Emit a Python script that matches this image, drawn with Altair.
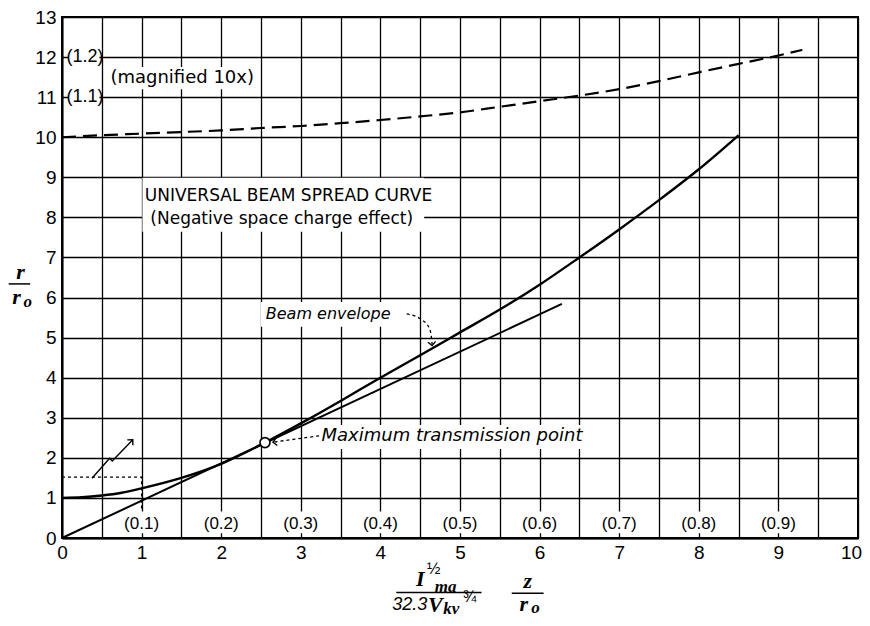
import altair as alt
import pandas as pd

# ---------------- data ----------------
# universal beam spread curve r/r0 vs parameter
spread_x = [0, 0.25, 0.5, 0.75, 1, 1.5, 2, 2.55, 3, 3.5, 4, 4.5, 5, 5.5, 6, 6.5, 7, 7.5, 8, 8.5]
spread_y = [1.0, 1.015, 1.06, 1.13, 1.24, 1.5, 1.85, 2.38, 2.86, 3.42, 4.0, 4.56, 5.13, 5.7,
            6.32, 7.0, 7.7, 8.43, 9.2, 10.05]
# beam envelope line
env_x = [0, 6.28]
env_y = [0, 5.84]
# magnified (10x) beginning of the curve
mag_x = [0, 0.5, 1, 1.5, 2, 2.5, 3, 3.5, 4, 4.5, 5, 5.5, 6, 6.5, 7, 7.5, 8, 8.5, 9, 9.3]
mag_y = [10.0, 10.05, 10.09, 10.13, 10.17, 10.23, 10.28, 10.35, 10.43, 10.52, 10.62, 10.76,
         10.9, 11.04, 11.2, 11.4, 11.62, 11.83, 12.04, 12.18]
# maximum transmission point
max_pt_x = [2.55]
max_pt_y = [2.38]

x_tick_count = 20          # gives a grid line every 0.5 on [0, 10]
y_grid = list(range(14))

mag_x_labels = ["(0.1)", "(0.2)", "(0.3)", "(0.4)", "(0.5)", "(0.6)", "(0.7)", "(0.8)", "(0.9)"]
mag_x_pos = [1, 2, 3, 4, 5, 6, 7, 8, 9]
mag_y_labels = ["(1.1)", "(1.2)"]
mag_y_pos = [11, 12]

# dotted box marking the magnified region and zig-zag arrow
box_x = [0, 1.0, 1.0]
box_y = [1.52, 1.52, 0.7]
zig_x = [0.377, 0.598, 0.632, 0.889]
zig_y = [1.49, 1.99, 1.92, 2.45]
# dotted annotation arrows
beam_arrow_x = [4.33, 4.5, 4.62, 4.65]
beam_arrow_y = [5.59, 5.47, 5.22, 4.84]
mtp_arrow_x = [3.23, 2.65]
mtp_arrow_y = [2.55, 2.39]
head_x = [0.889, 4.65, 2.65]
head_y = [2.45, 4.80, 2.39]
head_angle = [44, 174, 262]

# white backgrounds behind lettering (data units)
bg_x = [0.08, 0.08, 0.55, 1.01, 2.5, 3.19] + [p - 0.25 for p in mag_x_pos]
bg_x2 = [0.47, 0.47, 2.47, 4.55, 4.36, 6.66] + [p + 0.25 for p in mag_x_pos]
bg_y = [11.8, 10.8, 11.2, 7.64, 5.27, 2.22] + [0.12] * 9
bg_y2 = [12.2, 11.2, 11.75, 8.99, 5.89, 2.82] + [0.66] * 9

SANS = "DejaVu Sans"
NUM = "Liberation Sans"
SERIF = "Liberation Serif"

xscale = alt.Scale(domain=[0, 10], nice=False, zero=False)
yscale = alt.Scale(domain=[0, 13], nice=False, zero=False)

x_axis = alt.Axis(
    tickCount=x_tick_count,
    labelExpr="datum.value % 1 === 0 ? format(datum.value, 'd') : ''",
    grid=True, gridColor="black", gridWidth=1.3, gridOpacity=1,
    domain=True, domainColor="black", domainWidth=2, ticks=False,
    labelFont=NUM, labelFontSize=19, labelColor="black", labelPadding=5,
    labelOffset={"condition": {"test": "datum.value >= 10", "value": -7}, "value": 0},
    labelOverlap=False, labelFlush=False, title=None)
y_axis = alt.Axis(
    values=y_grid, tickCount=40, format="d",
    grid=True, gridColor="black", gridWidth=1.3, gridOpacity=1,
    domain=True, domainColor="black", domainWidth=2, ticks=False,
    labelFont=NUM, labelFontSize=19, labelColor="black", labelPadding=6,
    labelOverlap=False, labelFlush=False, title=None)


def X(field="x"):
    return alt.X(f"{field}:Q", scale=xscale, axis=x_axis)


def Y(field="y"):
    return alt.Y(f"{field}:Q", scale=yscale, axis=y_axis)


# ---------------- layers ----------------
spread = alt.Chart(pd.DataFrame({"x": spread_x, "y": spread_y})).mark_line(
    color="black", strokeWidth=2.4, interpolate="monotone"
).encode(x=X(), y=Y())

bg = alt.Chart(pd.DataFrame({"x": bg_x, "x2": bg_x2, "y": bg_y, "y2": bg_y2})).mark_rect(
    color="white", opacity=1
).encode(x=X(), x2="x2:Q", y=Y(), y2="y2:Q")

envelope = alt.Chart(pd.DataFrame({"x": env_x, "y": env_y})).mark_line(
    color="black", strokeWidth=2.0
).encode(x=X(), y=Y())

magnified = alt.Chart(pd.DataFrame({"x": mag_x, "y": mag_y})).mark_line(
    color="black", strokeWidth=2.2, strokeDash=[14, 7], interpolate="monotone"
).encode(x=X(), y=Y())

dotted_df = pd.DataFrame({
    "x": box_x + beam_arrow_x + mtp_arrow_x,
    "y": box_y + beam_arrow_y + mtp_arrow_y,
    "g": ["box"] * len(box_x) + ["beam"] * len(beam_arrow_x) + ["mtp"] * len(mtp_arrow_x),
    "o": list(range(len(box_x))) + list(range(len(beam_arrow_x))) + list(range(len(mtp_arrow_x))),
})
dotted = alt.Chart(dotted_df).mark_line(
    color="black", strokeWidth=1.3, strokeDash=[3, 3], interpolate="monotone"
).encode(x=X(), y=Y(), detail="g:N", order="o:Q")

zig = alt.Chart(pd.DataFrame({"x": zig_x, "y": zig_y, "o": list(range(len(zig_x)))})).mark_line(
    color="black", strokeWidth=1.4
).encode(x=X(), y=Y(), order="o:Q")

heads = alt.Chart(pd.DataFrame({"x": head_x, "y": head_y, "a": head_angle})).mark_point(
    shape="M-1,1L0,0L1,1", filled=False, stroke="black", strokeWidth=1.4, size=60, opacity=1
).encode(x=X(), y=Y(), angle=alt.Angle("a:Q", scale=None))

max_point = alt.Chart(pd.DataFrame({"x": max_pt_x, "y": max_pt_y})).mark_point(
    shape="circle", size=100, filled=True, fill="white", stroke="black", strokeWidth=1.6, opacity=1
).encode(x=X(), y=Y())


def text_layer(texts, xs, ys, size, font=SANS, style="normal", weight="normal",
               align="center", baseline="middle"):
    df = pd.DataFrame({"t": texts, "x": xs, "y": ys})
    return alt.Chart(df).mark_text(
        font=font, fontSize=size, fontStyle=style, fontWeight=weight, color="black",
        align=align, baseline=baseline
    ).encode(x=X(), y=Y(), text="t:N")


t_mag_x = text_layer(mag_x_labels, mag_x_pos, [0.36] * 9, 17, font=NUM)
t_mag_y = text_layer(mag_y_labels, [0.29, 0.29], mag_y_pos, 18, font=NUM)
t_magnified = text_layer(["(magnified 10x)"], [1.51], [11.47], 18)
t_title = text_layer(["UNIVERSAL BEAM SPREAD CURVE", "(Negative space charge effect)"],
                     [1.04, 1.11], [8.54, 7.96], 17, align="left")
t_beam = text_layer(["Beam envelope"], [2.56], [5.58], 16, style="italic", align="left")
t_mtp = text_layer(["Maximum transmission point"], [3.26], [2.55], 18, style="italic", align="left")

# axis titles built as fractions
t_math_big = text_layer(["r", "r", "I", "V", "z", "r"],
                        [-0.52, -0.57, 4.50, 4.69, 5.85, 5.80],
                        [6.64, 6.02, -1.02, -1.66, -1.08, -1.64], 22,
                        font=SERIF, style="italic", weight="bold")
t_math_sub = text_layer(["o", "ma", "kv", "o"],
                        [-0.43, 4.82, 4.89, 5.95],
                        [5.90, -1.22, -1.78, -1.74], 17,
                        font=SERIF, style="italic", weight="bold")
t_math_num = text_layer(["32.3"], [4.37], [-1.66], 18, font=NUM, style="italic")
t_math_sup = text_layer(["½", "¾"], [4.67, 5.12], [-0.78, -1.46], 16, font=NUM)

bars = alt.Chart(pd.DataFrame({"x": [-0.67, 4.20, 5.65], "x2": [-0.40, 5.27, 6.05],
                               "y": [6.34, -1.36, -1.38]})).mark_rule(
    color="black", strokeWidth=1.5
).encode(x=X(), x2="x2:Q", y=Y())

chart = alt.layer(
    spread, bg, envelope, magnified, dotted, zig, heads, max_point,
    t_mag_x, t_mag_y, t_magnified, t_title, t_beam, t_mtp,
    t_math_big, t_math_sub, t_math_num, t_math_sup, bars,
).properties(
    width=796, height=521,
    background="white",
    autosize=alt.AutoSizeParams(type="none"),
    padding={"left": 54, "top": 9, "right": 4, "bottom": 80},
).configure_view(
    stroke="black", strokeWidth=2
)

chart.save("out.html", embed_options={"renderer": "svg", "actions": False})
